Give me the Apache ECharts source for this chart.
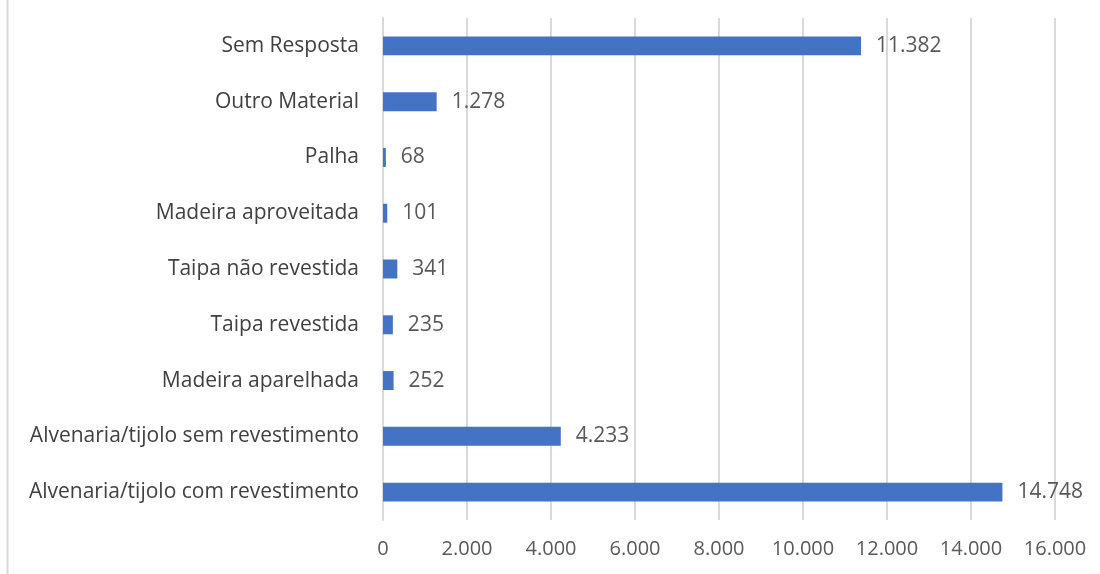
<!DOCTYPE html>
<html>
<head>
<meta charset="utf-8">
<script src="https://cdn.jsdelivr.net/npm/echarts@6/dist/echarts.min.js"></script>
<style>
  html, body { margin: 0; padding: 0; background: #fff; }
  #chart { width: 1100px; height: 574px; }
</style>
</head>
<body>
<div id="chart"></div>
<script>
// categorias de baixo para cima
const categories = [
  'Alvenaria/tijolo com revestimento',
  'Alvenaria/tijolo sem revestimento',
  'Madeira aparelhada',
  'Taipa revestida',
  'Taipa não revestida',
  'Madeira aproveitada',
  'Palha',
  'Outro Material',
  'Sem Resposta'
]
const values = [14748, 4233, 252, 235, 341, 101, 68, 1278, 11382]
const axisTicks = [0, 2000, 4000, 6000, 8000, 10000, 12000, 14000, 16000]

const fmt = (v) => String(v).replace(/\B(?=(\d{3})+(?!\d))/g, '.')

const chart = echarts.init(document.getElementById('chart'))
chart.setOption({
  animation: false,
  textStyle: { fontFamily: 'Open Sans, Liberation Sans, sans-serif' },
  grid: { left: 383, right: 45, top: 18, bottom: 54 },
  graphic: [
    {
      type: 'line',
      shape: { x1: 7.5, y1: 0, x2: 7.5, y2: 574 },
      style: { stroke: '#d9d9d9', lineWidth: 2 }
    }
  ],
  xAxis: {
    type: 'value',
    min: axisTicks[0],
    max: axisTicks[axisTicks.length - 1],
    interval: 2000,
    axisLine: { show: false },
    axisTick: { show: false },
    axisLabel: {
      color: '#595959',
      fontSize: 20,
      margin: 19,
      formatter: (v) => fmt(v)
    },
    splitLine: { lineStyle: { color: '#d9d9d9', width: 2 } }
  },
  yAxis: {
    type: 'category',
    data: categories,
    axisLine: { show: true, lineStyle: { color: '#d9d9d9', width: 2 } },
    axisTick: { show: false },
    axisLabel: { color: '#404040', fontSize: 21, margin: 24 }
  },
  series: [
    {
      type: 'bar',
      data: values,
      barWidth: '34%',
      itemStyle: { color: '#4472c4' },
      label: {
        show: true,
        position: 'right',
        distance: 15,
        color: '#595959',
        fontSize: 21,
        formatter: (p) => fmt(p.value)
      }
    }
  ]
})
</script>
</body>
</html>
